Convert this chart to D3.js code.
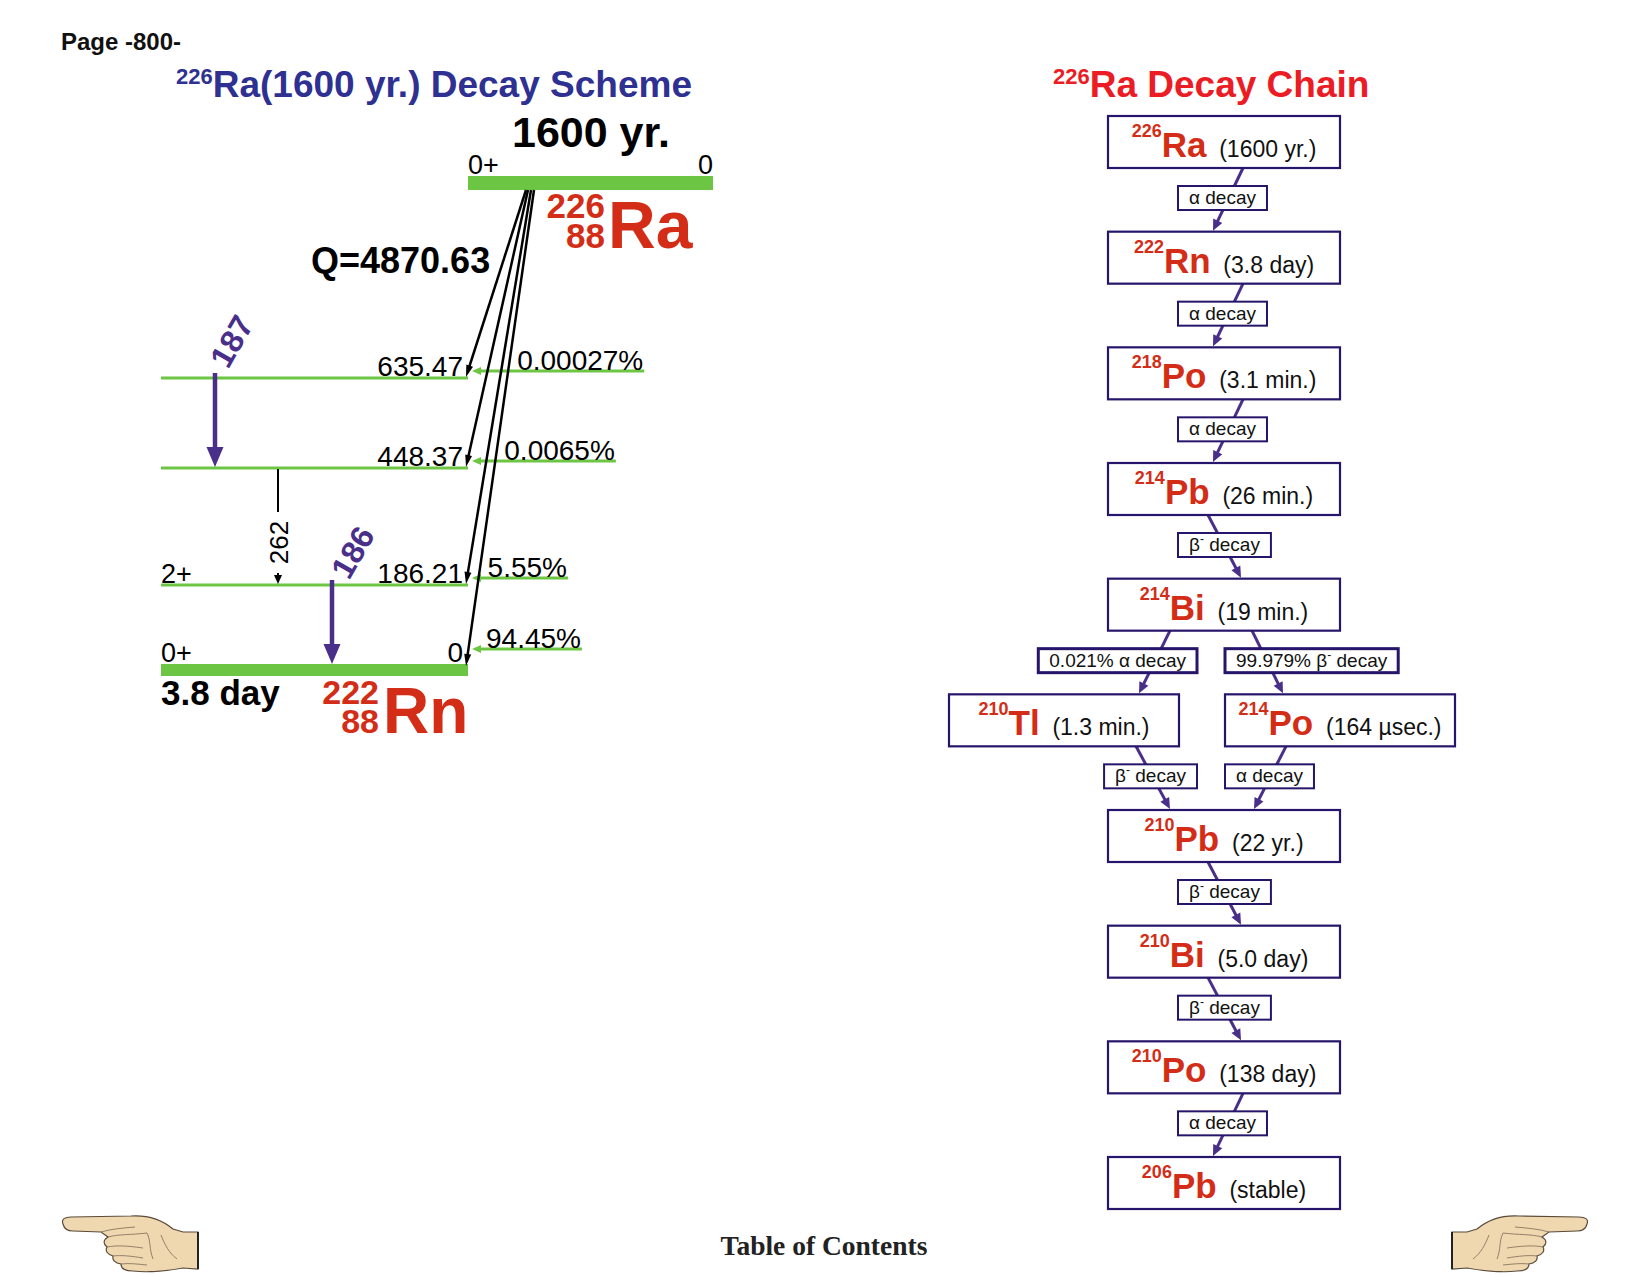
<!DOCTYPE html>
<html><head><meta charset="utf-8">
<script src="https://cdn.jsdelivr.net/npm/d3@7"></script>
<style>
body{margin:0;background:#fff}
svg{display:block;font-family:"Liberation Sans",Arial,Helvetica,sans-serif}
</style>
</head><body>
<svg id="c" width="1651" height="1275"></svg>
<script>
// ---------------- data ----------------
const levelEnergy = [635.47, 448.37, 186.21, 0];
const levelLabel = ["635.47", "448.37", "186.21", "0"];
const levelSpin = ["", "", "2+", "0+"];
const alphaIntensity = ["0.00027%", "0.0065%", "5.55%", "94.45%"];
const gammaLabel = ["187", "262", "186"];
const gammaFrom = [635.47, 448.37, 186.21];
const gammaTo = [448.37, 186.21, 0];
const parentHalfLife = "1600 yr.";
const parentSpin = "0+";
const parentEnergy = "0";
const parentMass = "226", parentZ = "88", parentSym = "Ra";
const qValue = "Q=4870.63";
const daughterHalfLife = "3.8 day";
const daughterMass = "222", daughterZ = "88", daughterSym = "Rn";

const chainMass = ["226","222","218","214","214","210","214","210","210","210","206"];
const chainSymbol = ["Ra","Rn","Po","Pb","Bi","Tl","Po","Pb","Bi","Po","Pb"];
const chainHalfLife = ["(1600 yr.)","(3.8 day)","(3.1 min.)","(26 min.)","(19 min.)","(1.3 min.)","(164 µsec.)","(22 yr.)","(5.0 day)","(138 day)","(stable)"];
const chainRow = [0,1,2,3,4,5,5,6,7,8,9];
const chainCol = ["main","main","main","main","main","left","right","main","main","main","main"];

const decayFrom = [0,1,2,3,4,4,5,6,7,8,9];
const decayTo   = [1,2,3,4,5,6,7,7,8,9,10];
const decayType = ["α","α","α","β","α","β","β","α","β","β","α"];
const decayBranch = ["","","","","0.021% ","99.979% ","","","","",""];

// ---------------- style ----------------
const RED = "#d42d17", BLUE = "#2e3192", TRED = "#ec1c24", PURPLE = "#4a2f8a",
      GREEN = "#6cc644", NAVY = "#26156a";

const svg = d3.select("#c");

function arrow(g, x1, y1, x2, y2, color, w, hl, hw) {
  const dx = x2 - x1, dy = y2 - y1, L = Math.hypot(dx, dy), ux = dx / L, uy = dy / L;
  const bx = x2 - ux * hl, by = y2 - uy * hl;
  g.append("line").attr("x1", x1).attr("y1", y1).attr("x2", bx + ux * 1.5).attr("y2", by + uy * 1.5)
    .attr("stroke", color).attr("stroke-width", w);
  g.append("path").attr("d", `M${x2},${y2}L${bx - uy * hw / 2},${by + ux * hw / 2}L${bx + uy * hw / 2},${by - ux * hw / 2}Z`)
    .attr("fill", color);
}

// ---------------- header ----------------
svg.append("text").attr("x", 61).attr("y", 50).attr("font-size", 24).attr("font-weight", "bold")
  .attr("fill", "#111").text("Page -800-");

const t1 = svg.append("text").attr("x", 176).attr("y", 97).attr("font-weight", "bold")
  .attr("fill", BLUE).attr("font-size", 37);
t1.append("tspan").attr("font-size", 22).attr("dy", -13).text(parentMass);
t1.append("tspan").attr("dy", 13).text("Ra(1600 yr.) Decay Scheme");

const t2 = svg.append("text").attr("x", 1053).attr("y", 97).attr("font-weight", "bold")
  .attr("fill", TRED).attr("font-size", 37);
t2.append("tspan").attr("font-size", 22).attr("dy", -13).text(parentMass);
t2.append("tspan").attr("dy", 13).text("Ra Decay Chain");

// ---------------- decay scheme ----------------
const yE = d3.scaleLinear().domain([0, 186.21, 448.37, 635.47]).range([670, 585, 468, 378]);
const xLeft = 161, xRight = 468;
const scheme = svg.append("g");

// parent level
scheme.append("rect").attr("x", 468).attr("y", 176).attr("width", 245).attr("height", 14).attr("fill", GREEN);
scheme.append("text").attr("x", 468).attr("y", 174).attr("font-size", 27).text(parentSpin);
scheme.append("text").attr("x", 713).attr("y", 174).attr("font-size", 27).attr("text-anchor", "end").text(parentEnergy);
scheme.append("text").attr("x", 512).attr("y", 147).attr("font-size", 43).attr("font-weight", "bold").text(parentHalfLife);
scheme.append("text").attr("x", 605).attr("y", 218).attr("font-size", 35).attr("font-weight", "bold").attr("fill", RED).attr("text-anchor", "end").text(parentMass);
scheme.append("text").attr("x", 605).attr("y", 248).attr("font-size", 35).attr("font-weight", "bold").attr("fill", RED).attr("text-anchor", "end").text(parentZ);
scheme.append("text").attr("x", 608).attr("y", 248).attr("font-size", 66).attr("font-weight", "bold").attr("fill", RED).text(parentSym);
scheme.append("text").attr("x", 311).attr("y", 273).attr("font-size", 36).attr("font-weight", "bold").text(qValue);

// daughter levels
const origins = [526, 528, 531, 534];
const groundLine = y => 534 + (466 - 534) * (y - 190) / (666 - 190);
levelEnergy.forEach((e, i) => {
  const y = yE(e);
  const ground = e === 0;
  if (ground) {
    scheme.append("rect").attr("x", xLeft).attr("y", y - 6).attr("width", xRight - xLeft).attr("height", 12).attr("fill", GREEN);
  } else {
    scheme.append("line").attr("x1", xLeft).attr("x2", xRight).attr("y1", y).attr("y2", y)
      .attr("stroke", GREEN).attr("stroke-width", 3);
  }
  const by = ground ? y - 8 : y - 2;
  scheme.append("text").attr("x", 463).attr("y", by).attr("font-size", 28).attr("text-anchor", "end").text(levelLabel[i]);
  if (levelSpin[i]) scheme.append("text").attr("x", xLeft).attr("y", by).attr("font-size", 27).text(levelSpin[i]);

  // alpha feeding
  const fy = ground ? y - 21 : y - 7;
  const lx = Math.max(groundLine(fy) + 9, 486);
  const lab = scheme.append("text").attr("x", lx).attr("y", fy - 1).attr("font-size", 28).text(alphaIntensity[i]);
  const lw = lab.node().getComputedTextLength();
  const fg = scheme.insert("g", "text");
  arrow(fg, lx + lw + 1, fy, 472, fy, GREEN, 3, 9, 8);

  // alpha arrow
  arrow(scheme, origins[i], 190, 466, ground ? y - 4 : y - 1, "#000", 2.5, 12, 7);
});

// gammas
const gammaX = [215, 278, 332];
gammaLabel.forEach((g, i) => {
  const y1 = yE(gammaFrom[i]) + 1;
  const y2 = gammaTo[i] === 0 ? yE(0) - 6 : yE(gammaTo[i]) - 1;
  const x = gammaX[i];
  if (g === "262") {
    scheme.append("line").attr("x1", x).attr("x2", x).attr("y1", y1).attr("y2", 512).attr("stroke", "#000").attr("stroke-width", 2);
    arrow(scheme, x, 573, x, y2, "#000", 2, 9, 8);
    scheme.append("text").attr("transform", `translate(${x + 10},${(512 + 573) / 2}) rotate(-90)`)
      .attr("text-anchor", "middle").attr("font-size", 26).text(g);
  } else {
    arrow(scheme, x, y1 - 6, x, y2, PURPLE, 4.5, 20, 17);
    const lp = i === 0 ? [228, 370] : [349, 581];
    scheme.append("text").attr("transform", `translate(${lp[0]},${lp[1]}) rotate(-60)`)
      .attr("font-size", 32).attr("font-weight", "bold").attr("fill", PURPLE).text(g);
  }
});

scheme.append("text").attr("x", 161).attr("y", 705).attr("font-size", 35).attr("font-weight", "bold").text(daughterHalfLife);
scheme.append("text").attr("x", 379).attr("y", 704).attr("font-size", 34).attr("font-weight", "bold").attr("fill", RED).attr("text-anchor", "end").text(daughterMass);
scheme.append("text").attr("x", 379).attr("y", 733).attr("font-size", 34).attr("font-weight", "bold").attr("fill", RED).attr("text-anchor", "end").text(daughterZ);
scheme.append("text").attr("x", 383).attr("y", 733).attr("font-size", 64).attr("font-weight", "bold").attr("fill", RED).text(daughterSym);

// ---------------- decay chain ----------------
const rowY = d3.scaleLinear().domain([0, 9]).range([116, 1157]);
const colX = d3.scaleOrdinal().domain(["left", "main", "right"]).range([1064, 1224, 1340]);
const boxH = 52;
const chain = svg.append("g");
const arrowsG = chain.append("g");
const boxesG = chain.append("g");
const labelsG = chain.append("g");

chainSymbol.forEach((s, i) => {
  const cx = colX(chainCol[i]), top = rowY(chainRow[i]);
  const w = chainCol[i] === "main" ? 232 : 230;
  boxesG.append("rect").attr("x", cx - w / 2).attr("y", top).attr("width", w).attr("height", boxH)
    .attr("fill", "#fff").attr("stroke", NAVY).attr("stroke-width", 2.2);
  const t = boxesG.append("text").attr("x", cx).attr("y", top + 41).attr("text-anchor", "middle");
  t.append("tspan").attr("font-size", 18).attr("font-weight", "bold").attr("fill", RED).attr("dy", -20).text(chainMass[i]);
  t.append("tspan").attr("font-size", 35).attr("font-weight", "bold").attr("fill", RED).attr("dy", 20).text(s);
  t.append("tspan").attr("font-size", 23).attr("fill", "#111").text("\u00a0\u00a0" + chainHalfLife[i]);
});

decayFrom.forEach((p, k) => {
  const c = decayTo[k];
  const pc = chainCol[p], cc = chainCol[c];
  const px = colX(pc), cxx = colX(cc);
  const y1 = rowY(chainRow[p]) + boxH, y2 = rowY(chainRow[c]);
  let o1, o2;
  if (pc === "main" && cc === "main") { [o1, o2] = decayType[k] === "α" ? [19, -11] : [-16, 17]; }
  else if (cc === "left") { [o1, o2] = [-54, 75]; }
  else if (cc === "right") { [o1, o2] = [28, -57]; }
  else if (pc === "left") { [o1, o2] = [72, -54]; }
  else { [o1, o2] = [-54, 30]; }
  arrow(arrowsG, px + o1, y1, cxx + o2, y2 - 1, PURPLE, 3, 11, 10);

  const ly = y1 + 18, lh = 24;
  const t = labelsG.append("text").attr("y", ly + 18).attr("font-size", 19).attr("fill", "#111");
  t.append("tspan").text(decayBranch[k] + decayType[k]);
  if (decayType[k] === "β") {
    t.append("tspan").attr("dy", -8).attr("font-size", 12).text("-");
    t.append("tspan").attr("dy", 8).text(" decay");
  } else {
    t.append("tspan").text(" decay");
  }
  const tw = t.node().getComputedTextLength();
  const bw = tw + 22;
  let bx;
  const mainX = colX("main");
  if (pc === "main" && cc === "main") bx = mainX - 46;
  else if (cc === "left" || pc === "left") bx = mainX - 27 - bw;
  else bx = mainX + 1;
  t.attr("x", bx + 11);
  labelsG.insert("rect", "text").attr("x", bx).attr("y", ly).attr("width", bw).attr("height", lh)
    .attr("fill", "#fff").attr("stroke", NAVY).attr("stroke-width", decayBranch[k] ? 3 : 2);
});

// ---------------- footer ----------------
svg.append("text").attr("x", 824).attr("y", 1255).attr("text-anchor", "middle")
  .attr("font-family", "'Liberation Serif','Times New Roman',serif").attr("font-weight", "bold")
  .attr("font-size", 27.5).attr("fill", "#222").text("Table of Contents");

function hand(x, y, flip) {
  const g = svg.append("g").attr("transform", flip ? `translate(${x + 137},${y}) scale(-1,1)` : `translate(${x},${y})`);
  g.append("path").attr("d",
    "M2,9 C0,4 4,2 10,2 L70,1 C86,0 100,4 112,14 L122,17 L137,17 L137,54 L122,53 C105,56 88,58 72,56 " +
    "C64,56 60,53 60,49 C54,48 51,45 52,41 C46,39 44,36 46,32 C42,29 42,25 47,22 L40,17 L12,16 C5,16 3,13 2,9 Z")
    .attr("fill", "#efd8b0").attr("stroke", "#5a4a3a").attr("stroke-width", 1.2);
  const lines = ["M40,17 C50,14 62,13 74,12", "M47,22 C58,19 70,20 86,18", "M46,32 C56,30 68,31 82,33",
    "M52,41 C60,40 70,41 82,43", "M60,49 C68,48 76,49 86,50", "M86,18 C90,26 88,34 92,44", "M100,20 C104,30 108,38 116,44"];
  lines.forEach(d => g.append("path").attr("d", d).attr("fill", "none").attr("stroke", "#8a7560").attr("stroke-width", 0.9));
  g.append("line").attr("x1", 137).attr("x2", 137).attr("y1", 17).attr("y2", 54).attr("stroke", "#222").attr("stroke-width", 2);
}
hand(61, 1215, false);
hand(1452, 1215, true);
</script>
</body></html>
